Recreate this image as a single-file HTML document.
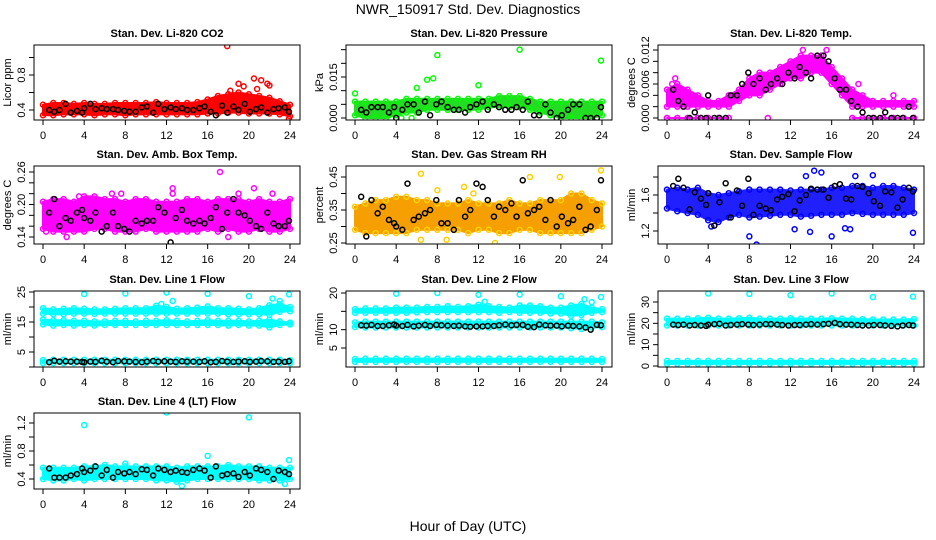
<!DOCTYPE html>
<html><head><meta charset="utf-8"><style>
html,body{margin:0;padding:0;background:#fff}
svg{display:block;font-family:"Liberation Sans",sans-serif}
</style></head><body>
<svg id="chart" width="936" height="540" viewBox="0 0 936 540" xmlns="http://www.w3.org/2000/svg">
<rect width="936" height="540" fill="#fff"/>
<text x="468" y="14" font-size="14" text-anchor="middle">NWR_150917  Std. Dev. Diagnostics</text>
<text x="468" y="531" font-size="14" text-anchor="middle">Hour of Day (UTC)</text>
</svg>
<script>
const hours = [0,1,2,3,4,5,6,7,8,9,10,11,12,13,14,15,16,17,18,19,20,21,22,23,24];
const xTicks = [0,4,8,12,16,20,24];
const blkX = [0.6,1.1,1.6,2.2,2.7,3.3,3.8,4.0,4.6,5.1,5.7,6.2,6.8,7.3,7.9,8.4,9.0,9.6,10.1,10.7,11.2,11.8,12.4,12.9,13.5,14.0,14.6,15.2,15.7,16.3,16.8,17.4,17.9,18.5,19.0,19.6,20.1,20.7,21.2,21.8,22.4,22.9,23.5,23.9];

const p1Lo = [.34,.34,.35,.35,.35,.34,.35,.35,.34,.35,.35,.35,.35,.35,.35,.35,.36,.36,.37,.37,.36,.36,.36,.35,.33];
const p1Hi = [.46,.48,.48,.47,.48,.47,.47,.48,.48,.48,.48,.49,.48,.48,.48,.49,.52,.56,.58,.60,.58,.56,.54,.50,.46];
const p1Ox = [17.9,19,20.5,21.2,21.8,22,20.8,19.5,23.9,18.2];
const p1Oy = [1.13,.70,.76,.74,.70,.68,.64,.67,.30,.62];
const p1Blk = [.40,.38,.40,.47,.37,.39,.37,.42,.47,.41,.42,.41,.41,.40,.39,.38,.38,.43,.44,.37,.47,.41,.43,.41,.42,.40,.40,.42,.44,.38,.34,.45,.37,.44,.40,.47,.38,.41,.43,.37,.41,.42,.43,.38];

const p2Lo = [.001,.000,.000,.000,.001,.002,.002,.003,.003,.003,.003,.003,.003,.004,.004,.004,.004,.003,.002,.001,.000,.000,.000,.000,.001];
const p2Hi = [.006,.006,.006,.006,.006,.007,.007,.007,.007,.007,.007,.007,.007,.007,.008,.008,.008,.007,.006,.006,.006,.006,.006,.006,.006];
const p2Ox = [8,16,23.9,7,7.6,12,6,0,4.5,5.5];
const p2Oy = [.023,.025,.021,.014,.0145,.012,.011,.009,0,0];
const p2Blk = [.003,.002,.004,.004,.004,.002,.004,.000,.003,.005,.005,.002,.006,.001,.005,.006,.004,.003,.003,.002,.004,.005,.006,.003,.005,.004,.003,.003,.004,.003,.006,.001,.001,.005,.002,.000,.001,.003,.005,.005,.000,.000,.000,.004];

const p3Lo = [.002,.002,.002,.002,.002,.002,.002,.003,.004,.004,.005,.006,.007,.007,.008,.008,.006,.004,.002,.002,.002,.002,.002,.002,.002];
const p3Hi = [.005,.006,.005,.004,.003,.003,.004,.005,.007,.008,.008,.009,.010,.011,.011,.011,.009,.007,.005,.004,.003,.003,.003,.003,.003];
const p3Lo2 = [0,0,0,0,0,0,0,null,null,null,null,null,null,null,null,null,null,null,0,0,0,0,0,0,0];
const p3Hi2 = [0,0,0,0,0,0,0,null,null,null,null,null,null,null,null,null,null,null,0,0,0,0,0,0,0];
const p3Ox = [9.8,0.5,0.8,18.6,22,13.2,15.5];
const p3Oy = [0,.006,.007,.006,.004,.012,.012];
const p3Blk = [.005,.003,.002,.000,.001,.000,.000,.004,.000,.000,.000,.004,.004,.006,.008,.006,.007,.005,.006,.007,.006,.008,.007,.009,.008,.007,.011,.011,.010,.007,.005,.005,.003,.002,.001,.000,.000,.000,.001,.000,.000,.000,.002,.000];

const p4Lo = [.155,.15,.15,.15,.15,.155,.155,.15,.15,.15,.155,.15,.15,.15,.15,.15,.155,.15,.155,.15,.15,.155,.15,.15,.155];
const p4Hi = [.205,.21,.21,.205,.215,.215,.21,.21,.205,.21,.21,.205,.205,.205,.21,.21,.205,.21,.21,.21,.205,.21,.205,.205,.21];
const p4Ox = [17.2,12.6,12.6,20.5,22.3,19,7.6,3.5,18,2.3,0.3,6.7];
const p4Oy = [.26,.23,.22,.23,.22,.22,.22,.215,.14,.14,.15,.22];
const p4Blk = [.185,.21,.16,.175,.17,.185,.19,.175,.17,.185,.15,.16,.185,.16,.155,.15,.17,.165,.17,.17,.195,.185,.13,.175,.19,.17,.165,.17,.165,.175,.195,.155,.185,.21,.185,.18,.17,.16,.155,.185,.165,.16,.16,.17];

const p5Lo = [.29,.28,.28,.28,.28,.28,.29,.29,.29,.29,.29,.28,.29,.29,.28,.28,.29,.29,.28,.28,.28,.28,.28,.29,.30];
const p5Hi = [.36,.37,.38,.38,.39,.39,.38,.38,.37,.37,.37,.38,.37,.37,.37,.38,.37,.37,.38,.38,.38,.40,.40,.38,.37];
const p5Ox = [6.4,17,19.9,23.9,13.6,8.9,6.4,10.6,8,11.5];
const p5Oy = [.46,.45,.45,.47,.25,.26,.26,.42,.41,.40];
const p5Blk = [.39,.27,.38,.34,.36,.32,.31,.30,.29,.43,.32,.33,.34,.35,.38,.31,.31,.29,.38,.33,.35,.43,.42,.38,.33,.36,.35,.37,.33,.44,.34,.35,.36,.32,.38,.30,.33,.31,.32,.36,.29,.30,.35,.44];

const p6Lo = [1.45,1.42,1.4,1.38,1.32,1.30,1.35,1.38,1.35,1.36,1.37,1.38,1.38,1.36,1.37,1.38,1.38,1.38,1.4,1.39,1.38,1.38,1.38,1.38,1.4];
const p6Hi = [1.66,1.68,1.66,1.68,1.62,1.6,1.62,1.64,1.66,1.66,1.66,1.66,1.65,1.66,1.66,1.66,1.68,1.68,1.7,1.7,1.68,1.7,1.7,1.68,1.66];
const p6Ox = [8.7,8,16,23.9,14.3,15,13.5,20,4.3,12.4,13.9,17.3,17.8,18.3];
const p6Oy = [1.05,1.14,1.14,1.18,1.87,1.85,1.81,1.82,1.25,1.22,1.19,1.23,1.22,1.81];
const p6Blk = [1.7,1.78,1.68,1.44,1.63,1.56,1.49,1.62,1.26,1.52,1.73,1.35,1.65,1.48,1.78,1.38,1.48,1.45,1.43,1.55,1.58,1.61,1.42,1.54,1.6,1.67,1.66,1.66,1.57,1.7,1.72,1.56,1.55,1.70,1.69,1.62,1.53,1.48,1.64,1.63,1.46,1.55,1.68,1.64];

const p7Lo1 = [17.8,17.6,17.6,17.8,17.8,17.7,17.8,17.8,17.8,17.8,17.8,17.8,17.8,17.8,17.8,17.8,17.8,17.8,17.6,17.6,17.6,17.6,17.4,18.4,18.6];
const p7Hi1 = [19.6,19.2,19.4,19.6,19.4,19.2,19.2,19.4,19.6,19.6,19.6,20.4,20,19.4,19.6,19.8,20.2,19.6,19.6,19.4,19.2,19.6,20.6,21,20];
const p7Lo2 = [14.2,13.8,14,13.8,14,13.8,14,14,14,14,14,14,14,14,14,14,14,14,13.8,14,13.8,13.8,13.2,14,14.2];
const p7Hi2 = [15.8,15.6,15.6,15.4,15.4,15.2,15.2,15.4,15.4,15.2,15.4,15.4,15.6,15.4,15.2,15.4,15.6,15.4,15.4,15.4,15.2,15.4,15.8,15.2,14.8];
const p7Lo3 = [1.3,1.3,1.3,1.3,1.3,1.3,1.3,1.3,1.3,1.3,1.3,1.3,1.3,1.3,1.3,1.3,1.3,1.3,1.3,1.3,1.3,1.3,1.3,1.3,1.3];
const p7Hi3 = [2.3,2.4,2.4,2.4,2.4,2.4,2.4,2.4,2.4,2.4,2.4,2.4,2.4,2.4,2.4,2.4,2.4,2.4,2.4,2.4,2.4,2.4,2.4,2.4,2.3];
const p7Ox = [4,8,12,16,20,23.9,12.6,22.3,23,11.5];
const p7Oy = [24.3,24.5,24.8,24.4,23.6,24.2,22,22.8,22,21];
const p7Blk = [1.6,2.1,1.8,1.9,1.8,1.8,1.7,1.6,1.8,1.7,2.1,1.8,1.6,2.0,1.9,1.8,1.7,1.6,1.8,2.0,1.8,1.9,1.8,1.7,1.9,1.8,1.8,1.7,1.9,1.6,1.7,2.0,1.8,1.7,1.8,1.9,1.7,1.8,2.0,1.9,1.7,1.8,1.7,1.9];

const p8Lo1 = [14.6,14.6,14.6,14.6,14.6,14.6,14.7,14.8,14.8,14.8,14.8,14.8,14.8,14.8,14.6,14.8,14.6,14.6,14.6,14.4,14.4,13.8,14,14.6,14.8];
const p8Hi1 = [15.6,15.8,15.8,15.8,16,16,16,16.2,16.2,16.4,16.2,16.4,16.8,16.4,16.2,16,16.6,16.6,16.4,16,16,16.6,17,16,15.6];
const p8Lo2 = [10.7,10.6,10.6,10.6,10.6,10.6,10.6,10.6,10.6,10.6,10.6,10.6,10.6,10.6,10.6,10.6,10.6,10.6,10.6,10.6,10.6,10.4,10.2,10.6,10.7];
const p8Hi2 = [12.0,12.2,12.2,12.2,12.2,12.2,12.2,12.2,12.2,12.2,12.2,12.2,12.2,12.2,12.2,12.2,12.2,12.2,12.2,12.2,12.2,12.2,12.2,12.2,12.0];
const p8Lo3 = [1.2,1.2,1.2,1.2,1.2,1.2,1.2,1.2,1.2,1.2,1.2,1.2,1.2,1.2,1.2,1.2,1.2,1.2,1.2,1.2,1.2,1.2,1.2,1.2,1.2];
const p8Hi3 = [2.0,2.1,2.1,2.1,2.1,2.1,2.1,2.1,2.1,2.1,2.1,2.1,2.1,2.1,2.1,2.1,2.1,2.1,2.1,2.1,2.1,2.1,2.1,2.1,2.0];
const p8Ox = [4,8,12,16,20,23.9,12.6,22.3,23,21.8];
const p8Oy = [19.8,20,19.5,19.6,19.1,18.9,17.6,18.3,17.5,16];
const p8Blk = [11.2,11.1,11.3,11.0,11.0,11.2,11.4,11.1,11.0,11.3,10.9,11.1,11.3,11.0,11.3,11.2,11.1,11.0,11.1,10.9,10.8,10.9,10.9,11.0,11.0,11.2,11.4,11.2,11.3,11.3,10.8,10.7,11.4,11.2,11.1,11.1,10.9,11.1,11.0,10.9,10.6,10.0,11.3,11.2];

const p9Lo1 = [19,19,19,19,19,19,19,19,19,19,19,19,19,19,19,19,19,19,19,19,19,19,19,19,19];
const p9Hi1 = [22.2,22.2,22.2,22.4,22.6,22.2,22.2,22.4,22.6,22.2,22.2,22.2,22.4,22.2,22.2,22.2,22.4,22.2,22.2,22.0,21.8,21.8,21.8,21.8,22.0];
const p9Lo2 = [1.0,1.0,1.0,1.0,1.0,1.0,1.0,1.0,1.0,1.0,1.0,1.0,1.0,1.0,1.0,1.0,1.0,1.0,1.0,1.0,1.0,1.0,1.0,1.0,1.0];
const p9Hi2 = [2.4,2.4,2.4,2.4,2.4,2.4,2.4,2.4,2.4,2.4,2.4,2.4,2.4,2.4,2.4,2.4,2.4,2.4,2.4,2.4,2.4,2.4,2.4,2.4,2.4];
const p9Ox = [4,8,12,16,20,23.9];
const p9Oy = [34,33.8,33.2,34,32.3,32.5];
const p9Blk = [19.4,19.2,19.4,19.0,19.2,19.0,18.8,19.4,19.6,19.8,19.0,19.2,19.4,19.6,19.4,19.2,19.4,19.6,19.6,19.4,19.2,19.0,19.2,19.2,19.4,19.6,19.4,19.6,19.8,20.2,19.6,19.4,19.4,19.2,19.0,19.0,19.2,19.2,19.0,18.8,18.6,19.0,19.2,19.0];

const p10Lo = [.4,.38,.38,.4,.38,.4,.4,.4,.4,.4,.4,.38,.38,.36,.38,.4,.4,.4,.4,.4,.4,.38,.38,.38,.4];
const p10Hi = [.56,.56,.56,.56,.58,.58,.6,.58,.58,.58,.58,.58,.58,.56,.58,.58,.58,.58,.6,.58,.58,.58,.56,.56,.56];
const p10Ox = [4,12,20,16,23.9,13.5,23.5,8];
const p10Oy = [1.17,1.35,1.28,.73,.67,.30,.33,.62];
const p10Blk = [.55,.42,.42,.42,.45,.47,.55,.5,.52,.58,.45,.53,.42,.5,.48,.5,.47,.54,.53,.45,.55,.53,.5,.52,.5,.49,.53,.55,.52,.42,.58,.45,.47,.48,.43,.5,.45,.55,.53,.5,.4,.52,.5,.47];

const svg = document.getElementById('chart');
const NS = 'http://www.w3.org/2000/svg';
const colX0 = [43,355,667];
const rowTop = [45,166,291,413];
const rowBot = [120,244,367,489];
const XW = 247;

function mk(tag, attrs, parent) {
  const e = document.createElementNS(NS, tag);
  for (const k in attrs) e.setAttribute(k, attrs[k]);
  (parent || svg).appendChild(e);
  return e;
}

const panels = [
 {id:'co2',col:0,row:0,title:'Stan. Dev. Li-820 CO2',ylab:'Licor ppm',v1:0.4,py1:110,v2:0.8,py2:75,ticks:[0.4,0.6,0.8,1.0],labels:[[0.4,'0.4'],[0.8,'0.8']],color:'#ff0000',ring:'#ff0000',bands:[[p1Lo,p1Hi]],ox:p1Ox,oy:p1Oy,blk:p1Blk},
 {id:'pressure',col:1,row:0,title:'Stan. Dev. Li-820 Pressure',ylab:'kPa',v1:0,py1:118,v2:0.015,py2:77,ticks:[0,0.005,0.01,0.015,0.02,0.025],labels:[[0,'0.000'],[0.015,'0.015']],color:'#22dd22',ring:'#00ff00',bands:[[p2Lo,p2Hi]],ox:p2Ox,oy:p2Oy,blk:p2Blk},
 {id:'temp',col:2,row:0,title:'Stan. Dev. Li-820 Temp.',ylab:'degrees C',v1:0,py1:118,v2:0.012,py2:50,ticks:[0,0.002,0.004,0.006,0.008,0.01,0.012],labels:[[0,'0.000'],[0.006,'0.006'],[0.012,'0.012']],color:'#ff00ff',ring:'#ff00ff',bands:[[p3Lo,p3Hi],[p3Lo2,p3Hi2]],ox:p3Ox,oy:p3Oy,blk:p3Blk},
 {id:'amb-box',col:0,row:1,title:'Stan. Dev. Amb. Box Temp.',ylab:'degrees C',v1:0.14,py1:237,v2:0.26,py2:172,ticks:[0.14,0.16,0.18,0.2,0.22,0.24,0.26],labels:[[0.14,'0.14'],[0.2,'0.20'],[0.26,'0.26']],color:'#ff00ff',ring:'#ff00ff',bands:[[p4Lo,p4Hi]],ox:p4Ox,oy:p4Oy,blk:p4Blk},
 {id:'rh',col:1,row:1,title:'Stan. Dev. Gas Stream RH',ylab:'percent',v1:0.25,py1:243,v2:0.45,py2:177,ticks:[0.25,0.3,0.35,0.4,0.45],labels:[[0.25,'0.25'],[0.35,'0.35'],[0.45,'0.45']],color:'#f5a000',ring:'#ffd000',bands:[[p5Lo,p5Hi]],ox:p5Ox,oy:p5Oy,blk:p5Blk},
 {id:'sample-flow',col:2,row:1,title:'Stan. Dev. Sample Flow',ylab:'ml/min',v1:1.2,py1:231,v2:1.6,py2:195,ticks:[1.2,1.4,1.6,1.8],labels:[[1.2,'1.2'],[1.6,'1.6']],color:'#2020ff',ring:'#0000ff',bands:[[p6Lo,p6Hi]],ox:p6Ox,oy:p6Oy,blk:p6Blk},
 {id:'line1',col:0,row:2,title:'Stan. Dev. Line 1 Flow',ylab:'ml/min',v1:5,py1:352,v2:25,py2:292,ticks:[0,5,10,15,20,25],labels:[[5,'5'],[15,'15'],[25,'25']],color:'#00ffff',ring:'#00ffff',bands:[[p7Lo1,p7Hi1],[p7Lo2,p7Hi2],[p7Lo3,p7Hi3]],ox:p7Ox,oy:p7Oy,blk:p7Blk},
 {id:'line2',col:1,row:2,title:'Stan. Dev. Line 2 Flow',ylab:'ml/min',v1:5,py1:348,v2:20,py2:293,ticks:[5,10,15,20],labels:[[5,'5'],[10,'10'],[20,'20']],color:'#00ffff',ring:'#00ffff',bands:[[p8Lo1,p8Hi1],[p8Lo2,p8Hi2],[p8Lo3,p8Hi3]],ox:p8Ox,oy:p8Oy,blk:p8Blk},
 {id:'line3',col:2,row:2,title:'Stan. Dev. Line 3 Flow',ylab:'ml/min',v1:0,py1:366,v2:30,py2:302,ticks:[0,5,10,15,20,25,30],labels:[[0,'0'],[10,'10'],[20,'20'],[30,'30']],color:'#00ffff',ring:'#00ffff',bands:[[p9Lo1,p9Hi1],[p9Lo2,p9Hi2]],ox:p9Ox,oy:p9Oy,blk:p9Blk},
 {id:'line4',col:0,row:3,title:'Stan. Dev. Line 4 (LT) Flow',ylab:'ml/min',v1:0.4,py1:479,v2:1.2,py2:423,ticks:[0.4,0.6,0.8,1.0,1.2],labels:[[0.4,'0.4'],[0.8,'0.8'],[1.2,'1.2']],color:'#00ffff',ring:'#00ffff',bands:[[p10Lo,p10Hi]],ox:p10Ox,oy:p10Oy,blk:p10Blk}
];

panels.forEach(p => {
  const x0 = colX0[p.col], top = rowTop[p.row], bot = rowBot[p.row];
  const left = x0 - 9, right = x0 + XW + 10;
  const xs = v => x0 + v * XW / 24;
  const ys = v => p.py1 + (v - p.v1) * (p.py2 - p.py1) / (p.v2 - p.v1);
  const g = mk('g', {});
  
  
  const clip = mk('clipPath', {id:'clip-' + p.id}, g);
  mk('rect', {x:left, y:top, width:right-left, height:bot-top}, clip);
  const plot = mk('g', {'clip-path':'url(#clip-' + p.id + ')'}, g);
  p.bands.forEach((b, bi) => {
    const lo = b[0], hi = b[1];
    let segs = [], cur = [];
    hours.forEach((h, i) => {
      if (lo[i] === null) { if (cur.length) segs.push(cur); cur = []; }
      else cur.push(i);
    });
    if (cur.length) segs.push(cur);
    segs.forEach(seg => {
      const pts = seg.map(i => xs(hours[i]) + ',' + ys(hi[i])).concat(seg.slice().reverse().map(i => xs(hours[i]) + ',' + ys(lo[i])));
      const poly = mk('polygon', {points:pts.join(' '), fill:p.color, stroke:p.color, 'stroke-width':2, 'stroke-linejoin':'round'}, plot);
      
      
      seg.forEach(i => {
        [lo[i], hi[i]].forEach(v => {
          const c = mk('circle', {cx:xs(hours[i]), cy:ys(v), r:2.5, fill:'none', stroke:p.ring, 'stroke-width':1.5}, plot);
          
          
        });
      });
    });
  });
  p.ox.forEach((v, i) => {
    const c = mk('circle', {cx:xs(v), cy:ys(p.oy[i]), r:2.5, fill:'none', stroke:p.ring, 'stroke-width':1.5}, plot);
    
    
  });
  blkX.forEach((v, i) => {
    const c = mk('circle', {cx:xs(v), cy:ys(p.blk[i]), r:2.5, fill:'none', stroke:'#000', 'stroke-width':1.5}, plot);
    
    
  });
  const fr = mk('rect', {x:left, y:top, width:right-left, height:bot-top, fill:'none', stroke:'#000', 'stroke-width':1}, g);
  
  
  const t = mk('text', {x:(left+right)/2, y:top-8, 'font-size':11, 'font-weight':'bold', 'text-anchor':'middle'}, g);
  t.textContent = p.title;
  
  
  xTicks.forEach(v => {
    mk('line', {x1:xs(v), x2:xs(v), y1:bot, y2:bot+5, stroke:'#000'}, g);
    const l = mk('text', {x:xs(v), y:bot+19, 'font-size':11, 'text-anchor':'middle'}, g);
    l.textContent = v;
    
    
  });
  p.ticks.forEach(v => {
    if (ys(v) < top - 1 || ys(v) > bot + 1) return;
    mk('line', {x1:left-5, x2:left, y1:ys(v), y2:ys(v), stroke:'#000'}, g);
  });
  p.labels.forEach(lb => {
    const y = ys(lb[0]);
    const l = mk('text', {x:0, y:0, 'font-size':11, 'text-anchor':'middle', transform:'translate(' + (left-9) + ',' + y + ') rotate(-90)'}, g);
    l.textContent = lb[1];
    
    
  });
  const yl = mk('text', {x:0, y:0, 'font-size':11, 'text-anchor':'middle', transform:'translate(' + (left-23) + ',' + ((top+bot)/2) + ') rotate(-90)'}, g);
  yl.textContent = p.ylab;
  
  
});
</script>
</body></html>
